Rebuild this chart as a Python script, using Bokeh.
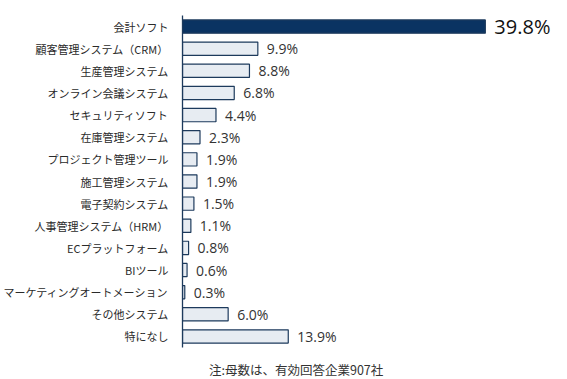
from bokeh.plotting import figure
from bokeh.models import FactorRange, Range1d, ColumnDataSource, Div
from bokeh.layouts import column
from bokeh.core.properties import value
from bokeh.embed import file_html
from bokeh.resources import INLINE

categories = ["会計ソフト", "顧客管理システム（CRM）", "生産管理システム", "オンライン会議システム",
              "セキュリティソフト", "在庫管理システム", "プロジェクト管理ツール", "施工管理システム",
              "電子契約システム", "人事管理システム（HRM）", "ECプラットフォーム", "BIツール",
              "マーケティングオートメーション", "その他システム", "特になし"]
values = [39.8, 9.9, 8.8, 6.8, 4.4, 2.3, 1.9, 1.9, 1.5, 1.1, 0.8, 0.6, 0.3, 6.0, 13.9]
value_labels = [f"{v:.1f}%" for v in values]
note = "注:母数は、有効回答企業907社"

NAVY = "#0a3362"
LIGHT = "#e7ecf2"
EDGE = "#1d3a5c"

fills = [NAVY] + [LIGHT] * (len(values) - 1)
src = ColumnDataSource(dict(cat=categories, val=values, lab=value_labels, fill=fills))
top_src = ColumnDataSource(dict(cat=categories[:1], val=values[:1], lab=value_labels[:1]))
rest_src = ColumnDataSource(dict(cat=categories[1:], val=values[1:], lab=value_labels[1:]))

p = figure(width=567, height=356, output_backend="svg", toolbar_location=None,
           y_range=FactorRange(*reversed(categories), range_padding=0),
           x_range=Range1d(0, 50.6),
           min_border_left=182, min_border_right=0, min_border_top=15, min_border_bottom=9)
p.outline_line_color = None
p.xgrid.visible = False
p.ygrid.visible = False
p.xaxis.visible = False

ya = p.yaxis[0]
ya.axis_line_color = EDGE
ya.axis_line_width = 1.3
ya.major_tick_line_color = None
ya.minor_tick_line_color = None
ya.major_label_text_font = "Noto Sans CJK JP"
ya.major_label_text_font_size = "11px"
ya.major_label_text_color = "#2a2a2a"
ya.major_label_standoff = 8

p.hbar(y="cat", right="val", left=0, height=0.6, source=src,
       fill_color="fill", line_color=EDGE, line_width=1.2)

p.text(x="val", y="cat", text="lab", source=rest_src, x_offset=9,
       text_baseline="middle", text_align="left",
       text_font=value("Open Sans"), text_font_size="14px", text_color="#333333")
p.text(x="val", y="cat", text="lab", source=top_src, x_offset=9,
       text_baseline="middle", text_align="left",
       text_font=value("Open Sans"), text_font_size="20px", text_font_style="normal",
       text_color="#111111")

div = Div(text=note, width=567, height=18,
          styles={"padding-left": "204px", "font-size": "12.5px",
                  "font-family": "'Noto Sans CJK JP'", "color": "#333333",
                  "line-height": "18px", "white-space": "nowrap"})

layout = column(p, div, spacing=0)
open("out.html", "w").write(file_html(layout, INLINE))
